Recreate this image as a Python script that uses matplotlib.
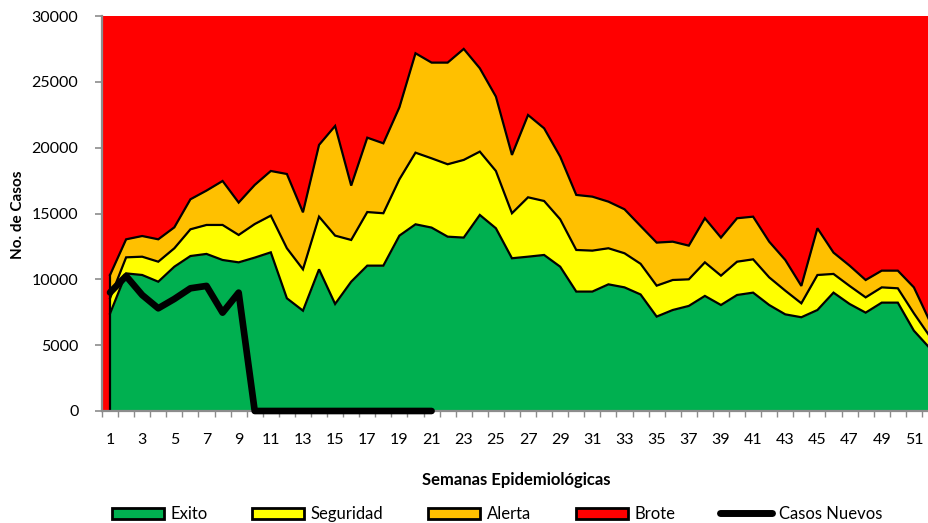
import matplotlib
matplotlib.use("Agg")
import matplotlib.pyplot as plt
from matplotlib.patches import Patch
from matplotlib.lines import Line2D
import numpy as np

plt.rcParams['font.family'] = ['Lato', 'DejaVu Sans']

# semanas epidemiologicas
semanas = list(range(1, 53))

# limites superiores (acumulados) del canal endemico
exito = [7400, 10450, 10330, 9820, 10960, 11770, 11930, 11470, 11290, 11650,
         12050, 8560, 7620, 10760, 8130, 9820, 11040, 11040, 13320, 14180,
         13930, 13240, 13170, 14890, 13880, 11600, 11720, 11850, 10960, 9070,
         9070, 9620, 9390, 8850, 7170, 7670, 7980, 8740, 8050, 8810,
         8990, 8050, 7340, 7120, 7670, 8990, 8130, 7470, 8230, 8230,
         6100, 4760]
seguridad = [8560, 11670, 11720, 11340, 12360, 13800, 14130, 14130, 13370, 14200,
             14840, 12360, 10760, 14760, 13320, 12990, 15110, 15020, 17600, 19620,
             19190, 18740, 19070, 19700, 18230, 15020, 16230, 15950, 14560, 12230,
             12180, 12360, 11980, 11180, 9520, 9950, 10000, 11290, 10280, 11340,
             11520, 10150, 9140, 8180, 10330, 10410, 9500, 8630, 9390, 9320,
             7420, 5650]
alerta = [10330, 13040, 13290, 13040, 13950, 16080, 16740, 17470, 15830, 17170,
          18230, 18000, 15090, 20210, 21650, 17120, 20760, 20330, 23070, 27170,
          26460, 26460, 27500, 26030, 23880, 19450, 22480, 21470, 19320, 16410,
          16280, 15900, 15320, 14050, 12790, 12860, 12560, 14640, 13170, 14640,
          14760, 12860, 11470, 9500, 13880, 12030, 11040, 9950, 10660, 10660,
          9390, 6790]

# casos nuevos reportados (semanas 1 a 21)
semanas_casos = list(range(1, 22))
casos = [9000, 10250, 8810, 7800, 8510, 9320, 9500, 7470, 8990,
         0, 0, 0, 0, 0, 0, 0, 0, 0, 0, 0, 0]

verde = '#00B050'
amarillo = '#FFFF00'
naranja = '#FFC000'
rojo = '#FF0000'
gris = '#8C8C8C'

fig = plt.figure(figsize=(9.29, 5.23), dpi=100)
ax = fig.add_axes([102/929, 1 - 411/523, 836/929, 395/523])
ax.set_facecolor(rojo)

x = np.array(semanas)
ax.fill_between(x, 0, exito, color=verde, lw=0, zorder=1)
ax.fill_between(x, exito, seguridad, color=amarillo, lw=0, zorder=1)
ax.fill_between(x, seguridad, alerta, color=naranja, lw=0, zorder=1)
for serie in (exito, seguridad, alerta):
    ax.plot(x, serie, color='black', lw=1.6, zorder=2, solid_joinstyle='miter')
ax.plot([x[0], x[0]], [0, alerta[0]], color='black', lw=1.6, zorder=2)

ax.plot(semanas_casos, casos, color='black', lw=4.8, zorder=4,
        solid_capstyle='round', solid_joinstyle='round', clip_on=False)

ax.set_xlim(0.5, 52.5)
ax.set_ylim(0, 30000)
ax.set_yticks(range(0, 30001, 5000))
ax.set_xticks(np.arange(0.5, 53, 1))
ax.set_xticklabels([])
ax.set_xticks(range(1, 53, 2), minor=True)
ax.set_xticklabels([str(s) for s in range(1, 53, 2)], minor=True)
ax.tick_params(axis='x', which='major', length=4, width=1, color=gris)
ax.tick_params(axis='x', which='minor', length=0, pad=16, labelsize=11.5)
ax.tick_params(axis='y', length=5, width=1.2, color=gris, pad=12, labelsize=11.5)

for lado in ('top', 'right'):
    ax.spines[lado].set_visible(False)
for lado in ('left', 'bottom'):
    ax.spines[lado].set_color(gris)
    ax.spines[lado].set_linewidth(1.6)
    ax.spines[lado].set_zorder(3)

fig.text(18/929, 1 - 215/523, 'No. de Casos', rotation=90, ha='center',
         va='center', fontsize=11, fontweight='bold')
fig.text(516/929, 1 - 480/523, 'Semanas Epidemiológicas', ha='center',
         va='center', fontsize=12, fontweight='bold')

handles = [Patch(facecolor=verde, edgecolor='black', lw=2),
           Patch(facecolor=amarillo, edgecolor='black', lw=2),
           Patch(facecolor=naranja, edgecolor='black', lw=2),
           Patch(facecolor=rojo, edgecolor='black', lw=2),
           Line2D([], [], color='black', lw=5, solid_capstyle='round')]
fig.legend(handles, ['Exito', 'Seguridad', 'Alerta', 'Brote', 'Casos Nuevos'],
           loc='center', bbox_to_anchor=(497/929, 1 - 514/523), ncol=5,
           frameon=False, fontsize=12, handlelength=3.1, handleheight=0.65,
           handletextpad=0.4, columnspacing=2.7, borderpad=0)

fig.savefig('out.png', dpi=100)
